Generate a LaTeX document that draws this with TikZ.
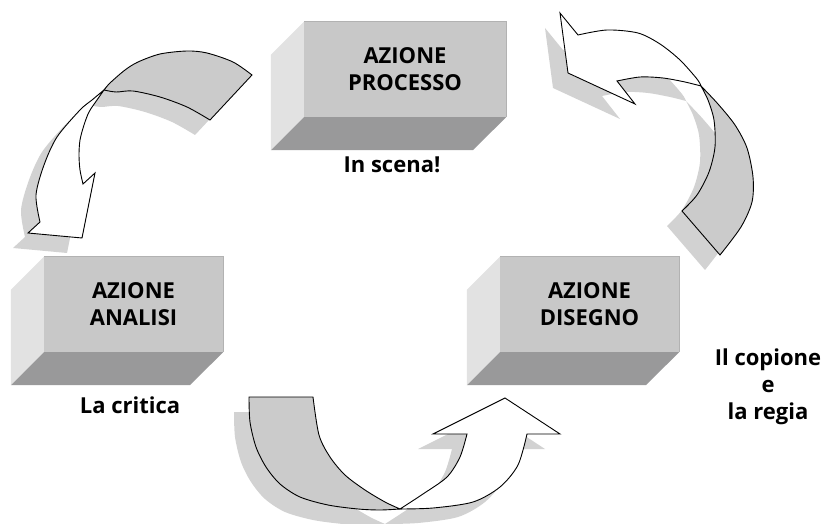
\documentclass[tikz,border=0pt]{standalone}
\usepackage{fontspec}
\setmainfont{Open Sans}
\usetikzlibrary{calc}

\definecolor{facciata}{RGB}{200,200,200}
\definecolor{fiancochiaro}{RGB}{226,226,226}
\definecolor{fondoscuro}{RGB}{153,153,154}
\definecolor{nastrogrigio}{RGB}{203,203,203}
\definecolor{ombragrigia}{RGB}{210,210,210}

\newcommand{\scritta}{\fontsize{22}{27}\selectfont\bfseries}

% contorni delle frecce curve
\newcommand{\grigiouno}{plot[smooth] coordinates {(252,75) (233,62) (207,53) (187,51) (160,54) (138,62) (125,70) (110,83) (104,90)} -- plot[smooth] coordinates {(104,90) (116,92) (133,91) (160,97) (187,107) (210,120)} -- cycle}
\newcommand{\biancouno}{plot[smooth] coordinates {(104,90) (92,100) (80,110) (57,137) (44,165) (36,195) (40,222)} -- (28,233) -- (82,238) -- (95,173) -- (83,184) -- plot[smooth] coordinates {(83,184) (80,170) (79,155) (80,140) (84,125) (89,112) (97,100) (104,90)} -- cycle}
\newcommand{\grigiodue}{plot[smooth] coordinates {(701,86) (718,104) (735,125) (747,148) (753,177) (752,202) (741,227) (720,255)} -- (682,211) -- plot[smooth] coordinates {(682,211) (697,195) (709,172) (715,147) (714,120) (708,100) (701,86)} -- cycle}
\newcommand{\biancodue}{plot[smooth] coordinates {(701,86) (697,79) (680,60) (660,44) (638,33) (607,30) (578,35)} -- (560,13) -- (568,73) -- (635,104) -- (617,81) -- plot[smooth] coordinates {(617,81) (640,77) (663,78) (685,82) (701,86)} -- cycle}
\newcommand{\grigiotre}{plot[smooth] coordinates {(249,397) (250,422) (256,447) (266,467) (280,484) (300,497) (328,505) (358,509) (380,510) (400,509)} -- plot[smooth] coordinates {(400,509) (385,502) (365,490) (345,475) (330,457) (319,435) (313,397)} -- cycle}
\newcommand{\biancotre}{plot[smooth] coordinates {(400,509) (433,508) (473,502) (500,487) (518,465) (527,434)} -- (560,434) -- (505,398) -- (433,434) -- (467,434) -- plot[smooth] coordinates {(467,434) (460,457) (447,477) (423,494) (400,509)} -- cycle}

\tikzset{
  fronte/.style={fill=facciata, minimum height=95pt, inner sep=0pt, align=center, font=\scritta},
  fianco/.style={fill=fiancochiaro},
  fondo/.style={fill=fondoscuro},
  bordo/.style={draw=black!30, line width=0.8pt},
  nota/.style={align=center, inner sep=0pt, font=\scritta},
  nastro/.style={fill=nastrogrigio, draw=black, line width=0.9pt},
  bianco/.style={fill=white, draw=black, line width=0.9pt},
  ombra/.style={fill=ombragrigia, shift={(-15,15)}}
}

\begin{document}
\begin{tikzpicture}[x=1pt, y=-1pt]
  \useasboundingbox (0,0) rectangle (823,524);

  % Ombre delle frecce
  \fill[ombra] \grigiouno;
  \fill[ombra] \biancouno;
  \fill[ombra] \grigiodue;
  \fill[ombra] \biancodue;
  \fill[ombra] \grigiotre;
  \fill[ombra] \biancotre;

  % Blocchi
  \node[fronte, minimum width=202pt] (processo) at (405,69.5) {AZIONE\\PROCESSO};
  \node[fronte, minimum width=179pt] (analisi) at (133.5,304.5) {AZIONE\\ANALISI};
  \node[fronte, minimum width=179pt] (disegno) at (589.5,304.5) {AZIONE\\DISEGNO};
  \foreach \b/\w in {processo/202, analisi/179, disegno/179} {
    \fill[fianco] (\b.north west) -- ++(-33,33) -- ++(0,95) -- (\b.south west) -- cycle;
    \fill[fondo] (\b.south west) -- ++(-33,33) -- ++(\w,0) -- (\b.south east) -- cycle;
    \draw[bordo] (\b.north west) -- (\b.north east) -- (\b.south east);
  }

  % Didascalie
  \node[nota] (scena) at (392,165) {In scena!};
  \node[nota] (critica) at (130,405) {La critica};
  \node[nota] (regia) at (768,387) {Il copione\\e\\la regia};

  % Frecce curve
  \draw[nastro] \grigiouno;
  \draw[bianco] \biancouno;
  \draw[nastro] \grigiodue;
  \draw[bianco] \biancodue;
  \draw[nastro] \grigiotre;
  \draw[bianco] \biancotre;
\end{tikzpicture}
\end{document}
